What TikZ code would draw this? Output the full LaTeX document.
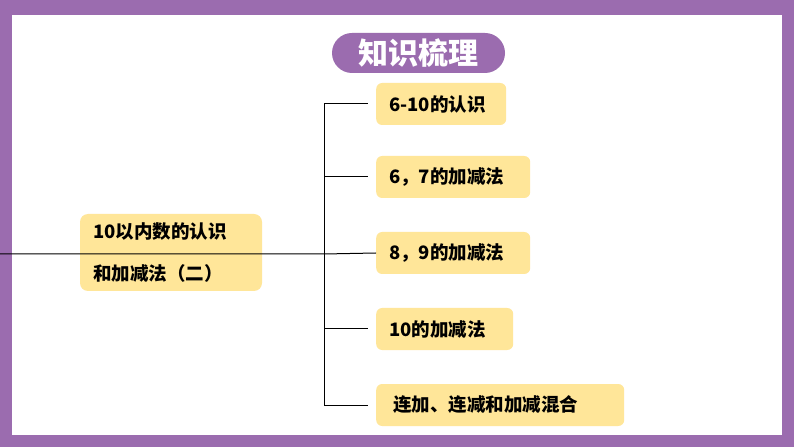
\documentclass[tikz,border=0pt]{standalone}
\usepackage{fontspec}
\newfontfamily\cjk{Noto Sans CJK SC}
\usetikzlibrary{positioning}
\definecolor{framepurple}{RGB}{155,108,175}
\definecolor{boxyellow}{RGB}{255,230,153}
\tikzset{
  topic/.style={fill=boxyellow, rounded corners=6pt, anchor=west, inner xsep=13pt, inner ysep=0pt,
    minimum height=42pt, font=\cjk\bfseries\fontsize{18.5}{20}\selectfont, align=left},
  branch/.style={line width=1pt}
}
\begin{document}
\begin{tikzpicture}[x=1pt,y=1pt]
        \useasboundingbox (0,0) rectangle (794,447);
        \fill[framepurple] (0,0) rectangle (794,447);
        \fill[white] (12,12) rectangle (782,432);
        % title
        \node[fill=framepurple, rounded corners=20pt, minimum width=173pt, minimum height=40pt,
          text=white, font=\cjk\bfseries\fontsize{30}{32}\selectfont] (title) at (418.5,394) {知识梳理};
        % main topic
        \node[fill=boxyellow, rounded corners=8pt, text width=156pt, inner xsep=13pt, minimum height=77pt,
          font=\cjk\bfseries\fontsize{18.5}{42}\selectfont, align=left] (main) at (171,194.5)
          {10以内数的认识\\和加减法（二）};
        % sub topics
        \node[topic, text width=104pt] (t1) at (376,343) {6-10的认识};
        \node[topic, text width=128pt] (t2) at (376,270) {6，7的加减法};
        \node[topic, text width=128pt] (t3) at (376,194) {8，9的加减法};
        \node[topic, text width=111pt] (t4) at (376,118) {10的加减法};
        \node[topic, text width=222pt, inner xsep=13pt] (t5) at (376,42) {\hspace{4pt}连加、连减和加减混合};
        % connectors
        \coordinate (start) at (0,193);
        \coordinate (fork) at (324,193);
        \draw[branch] (start) -- (fork) -- (t3.west);
        \draw[branch] (fork |- t1.west) -- (fork |- t5.west);
        \foreach \t in {t1,t2,t4,t5}
          \draw[branch] (fork |- \t.west) -- ([xshift=-8pt]\t.west);
\end{tikzpicture}
\end{document}
